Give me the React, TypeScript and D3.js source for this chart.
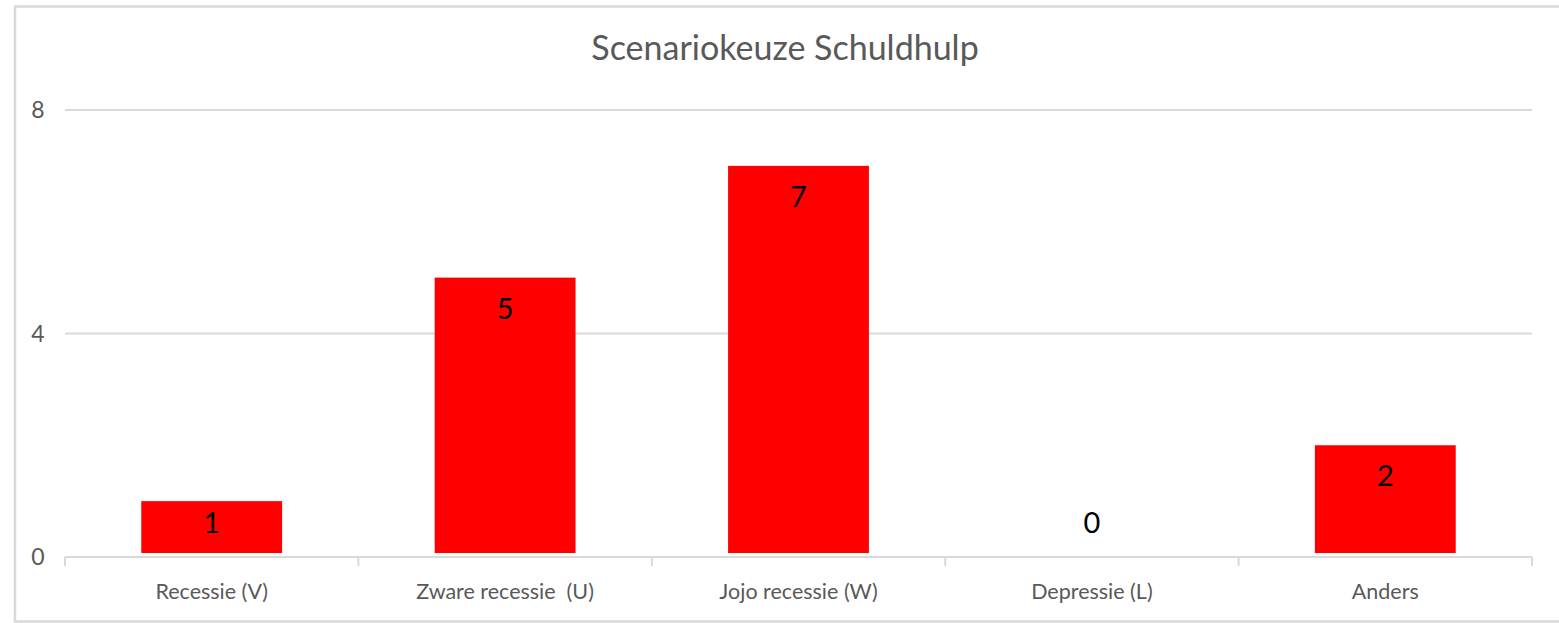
import React, { useRef, useEffect } from 'react';
import { select, scaleBand, scaleLinear } from 'd3';

const categories = ['Recessie (V)', 'Zware recessie  (U)', 'Jojo recessie (W)', 'Depressie (L)', 'Anders'];
const counts = [1, 5, 7, 0, 2];
const yTicks = [0, 4, 8];
const chartTitle = 'Scenariokeuze Schuldhulp';

const W = 1559;
const H = 623;
const FONT = 'Lato, "Open Sans", sans-serif';

function App() {
  const svgRef = useRef<SVGSVGElement>(null);

  useEffect(() => {
    const svg = select(svgRef.current);
    svg.selectAll('*').remove();

    const left = 65, right = 1532, top = 110, bottom = 557;
    const x = scaleBand<string>().domain(categories).range([left, right]).paddingInner(0.52).paddingOuter(0.26);
    const y = scaleLinear().domain([0, 8]).range([bottom, top]);

    // chart border
    svg.append('rect')
      .attr('x', 15).attr('y', 6.5).attr('width', W + 20).attr('height', 615)
      .attr('fill', 'white').attr('stroke', '#d9d9d9').attr('stroke-width', 2.5);

    svg.append('text')
      .attr('x', 785).attr('y', 60)
      .attr('text-anchor', 'middle')
      .attr('font-family', FONT).attr('font-size', 34)
      .attr('fill', '#595959')
      .text(chartTitle);

    // gridlines (skip 0, the axis line is drawn below)
    svg.selectAll('.grid')
      .data(yTicks.filter(t => t > 0))
      .join('line')
      .attr('class', 'grid')
      .attr('x1', left).attr('x2', right)
      .attr('y1', d => y(d)).attr('y2', d => y(d))
      .attr('stroke', '#d9d9d9').attr('stroke-width', 2);

    svg.selectAll('.ytick')
      .data(yTicks)
      .join('text')
      .attr('class', 'ytick')
      .attr('x', 38).attr('y', d => y(d))
      .attr('dy', '0.35em')
      .attr('text-anchor', 'middle')
      .attr('font-family', FONT).attr('font-size', 23)
      .attr('fill', '#595959')
      .text(d => d);

    // bars
    svg.selectAll('.bar')
      .data(counts)
      .join('rect')
      .attr('class', 'bar')
      .attr('x', (d, i) => x(categories[i]) as number)
      .attr('width', x.bandwidth())
      .attr('y', d => y(d))
      .attr('height', d => Math.max(0, y(0) - 4 - y(d)))
      .attr('fill', '#ff0000');

    svg.selectAll('.val')
      .data(counts)
      .join('text')
      .attr('class', 'val')
      .attr('x', (d, i) => (x(categories[i]) as number) + x.bandwidth() / 2)
      .attr('y', d => Math.min(y(d) + 31, y(0) - 34))
      .attr('dy', '0.35em')
      .attr('text-anchor', 'middle')
      .attr('font-family', FONT).attr('font-size', 29)
      .attr('fill', '#000')
      .text(d => d);

    // x axis
    svg.append('line')
      .attr('x1', left).attr('x2', right)
      .attr('y1', y(0)).attr('y2', y(0))
      .attr('stroke', '#d9d9d9').attr('stroke-width', 2);

    const tickPos = categories.map(c => (x(c) as number) - x.step() * 0.26).concat([right]);
    svg.selectAll('.xtick')
      .data(tickPos)
      .join('line')
      .attr('class', 'xtick')
      .attr('x1', d => d).attr('x2', d => d)
      .attr('y1', y(0)).attr('y2', y(0) + 9)
      .attr('stroke', '#d9d9d9').attr('stroke-width', 2);

    svg.selectAll('.xlab')
      .data(categories)
      .join('text')
      .attr('class', 'xlab')
      .attr('x', d => (x(d) as number) + x.bandwidth() / 2)
      .attr('y', 591)
      .attr('dy', '0.35em')
      .attr('text-anchor', 'middle')
      .attr('font-family', FONT).attr('font-size', 21.5)
      .attr('fill', '#595959')
      .attr('xml:space', 'preserve')
      .style('white-space', 'pre')
      .text(d => d);
  }, []);

  return (
    <svg ref={svgRef} width={W} height={H}
      style={{ position: 'absolute', left: 0, top: 0, display: 'block', background: 'white' }} />
  );
}

export default App;
